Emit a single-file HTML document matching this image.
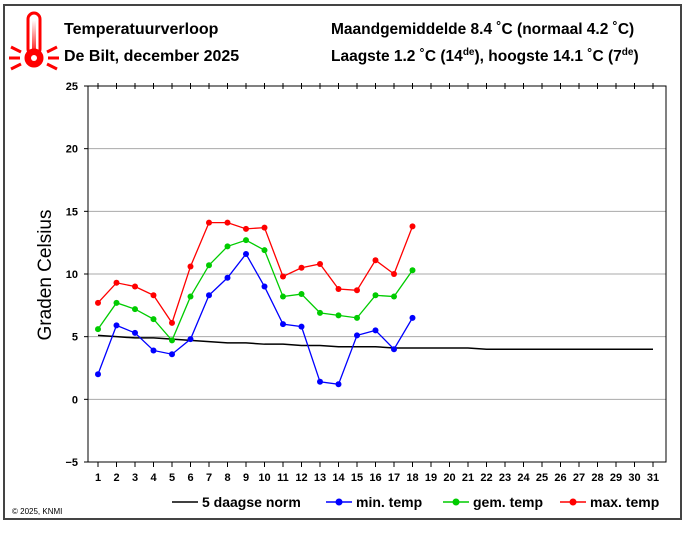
<!DOCTYPE html>
<html><head><meta charset="utf-8"><style>
body{margin:0;background:#fff;}
svg{display:block;font-family:"Liberation Sans",Arial,sans-serif;}
</style></head><body>
<svg id="c" width="700" height="541" viewBox="0 0 700 541">
<defs><linearGradient id="tg" x1="0" y1="0" x2="0" y2="1"><stop offset="0" stop-color="#fff"/><stop offset="1" stop-color="#f00"/></linearGradient></defs>
<rect x="4" y="5" width="677" height="514" fill="#fff" stroke="#444" stroke-width="2"/>
<g stroke="#f00" fill="none" stroke-width="3">
<rect x="28" y="13" width="12" height="42" rx="6" fill="#fff"/>
<rect x="32" y="20" width="4" height="36" fill="url(#tg)" stroke="none"/>
<circle cx="34" cy="58" r="8" fill="#f00" stroke="#f00"/>
<circle cx="34" cy="58" r="3" fill="#fff" stroke="none"/>
<line x1="9" y1="58" x2="20" y2="58"/><line x1="48" y1="58" x2="59" y2="58"/>
<line x1="11" y1="47" x2="21" y2="52"/><line x1="47" y1="52" x2="57" y2="47"/>
<line x1="11" y1="69" x2="21" y2="64"/><line x1="47" y1="64" x2="57" y2="69"/>
</g>
<text x="64" y="34" font-size="16" font-weight="bold">Temperatuurverloop</text>
<text x="64" y="61" font-size="16" font-weight="bold">De Bilt, december 2025</text>
<text x="331" y="34" font-size="15.5" font-weight="bold">Maandgemiddelde 8.4 ˚C (normaal 4.2 ˚C)</text>
<text x="331" y="61" font-size="15.5" font-weight="bold">Laagste 1.2 ˚C (14<tspan font-size="10" dy="-6">de</tspan><tspan dy="6">), hoogste 14.1 ˚C (7</tspan><tspan font-size="10" dy="-6">de</tspan><tspan dy="6">)</tspan></text>
<text x="0" y="0" font-size="19" transform="translate(51,275) rotate(-90)" text-anchor="middle">Graden Celsius</text>
<g id="grid"></g>
<g id="axes"></g>
<g id="series"></g>
<text x="12" y="514" font-size="8">© 2025, KNMI</text>
<g id="legend"></g>
</svg>
<script>
const days = Array.from({length:31},(_,i)=>i+1);
const yTicks = [-5,0,5,10,15,20,25];
const maxTemp = [7.7,9.3,9.0,8.3,6.1,10.6,14.1,14.1,13.6,13.7,9.8,10.5,10.8,8.8,8.7,11.1,10.0,13.8];
const gemTemp = [5.6,7.7,7.2,6.4,4.7,8.2,10.7,12.2,12.7,11.9,8.2,8.4,6.9,6.7,6.5,8.3,8.2,10.3];
const minTemp = [2.0,5.9,5.3,3.9,3.6,4.8,8.3,9.7,11.6,9.0,6.0,5.8,1.4,1.2,5.1,5.5,4.0,6.5];
const normTemp = [5.1,5.0,4.9,4.9,4.8,4.7,4.6,4.5,4.5,4.4,4.4,4.3,4.3,4.2,4.2,4.2,4.1,4.1,4.1,4.1,4.1,4.0,4.0,4.0,4.0,4.0,4.0,4.0,4.0,4.0,4.0];
const NS="http://www.w3.org/2000/svg";
const L=88,R=666,T=86,B=462;
const x=d=>98+(d-1)*18.5;
const y=v=>B-(v+5)*(B-T)/30;
function mk(tag,attrs,parent){const e=document.createElementNS(NS,tag);for(const k in attrs)e.setAttribute(k,attrs[k]);parent.appendChild(e);return e;}
const grid=document.getElementById('grid'),axes=document.getElementById('axes'),series=document.getElementById('series'),legend=document.getElementById('legend');
yTicks.forEach(t=>{
  if(t>-5&&t<25){const g=mk('line',{x1:L,x2:R,y1:y(t),y2:y(t),stroke:'#aaa','stroke-width':1},grid);
  
  }
  const lb=mk('text',{x:78,y:y(t)+4,'font-size':11,'font-weight':'bold','text-anchor':'end'},axes);
  lb.textContent=t<0?'\u2212'+(-t):t;
  
  
  mk('line',{x1:L-4,x2:L,y1:y(t),y2:y(t),stroke:'#000'},axes);
});
const frame=mk('rect',{x:L,y:T,width:R-L,height:B-T,fill:'none',stroke:'#000','stroke-width':1},axes);


days.forEach(d=>{
  mk('line',{x1:x(d),x2:x(d),y1:B,y2:B+5,stroke:'#000'},axes);
  mk('line',{x1:x(d),x2:x(d),y1:T-3,y2:T+3,stroke:'#000'},axes);
  const lb=mk('text',{x:x(d),y:B+19,'font-size':11,'font-weight':'bold','text-anchor':'middle'},axes);
  lb.textContent=d;
  
  
});
function line(arr,color,name,dots){
  const p=mk('polyline',{points:arr.map((v,i)=>x(i+1)+','+y(v)).join(' '),fill:'none',stroke:color,'stroke-width':dots?1.3:1.5},series);
  
  
  if(dots)arr.forEach((v,i)=>{const c=mk('circle',{cx:x(i+1),cy:y(v),r:3,fill:color},series);
    
    });
}
line(normTemp,'#000','norm',false);
line(minTemp,'#0000ff','min-temp',true);
line(gemTemp,'#00cc00','gem-temp',true);
line(maxTemp,'#ff0000','max-temp',true);
const items=[['5 daagse norm','#000',172,false],['min. temp','#0000ff',326,true],['gem. temp','#00cc00',443,true],['max. temp','#ff0000',560,true]];
items.forEach(it=>{
  const g=mk('g',{},legend);
  
  
  mk('line',{x1:it[2],x2:it[2]+26,y1:502,y2:502,stroke:it[1],'stroke-width':1.5},g);
  if(it[3])mk('circle',{cx:it[2]+13,cy:502,r:3.5,fill:it[1]},g);
  const t=mk('text',{x:it[2]+30,y:507,'font-size':14,'font-weight':'bold'},g);
  t.textContent=it[0];
});
</script>
</body></html>
